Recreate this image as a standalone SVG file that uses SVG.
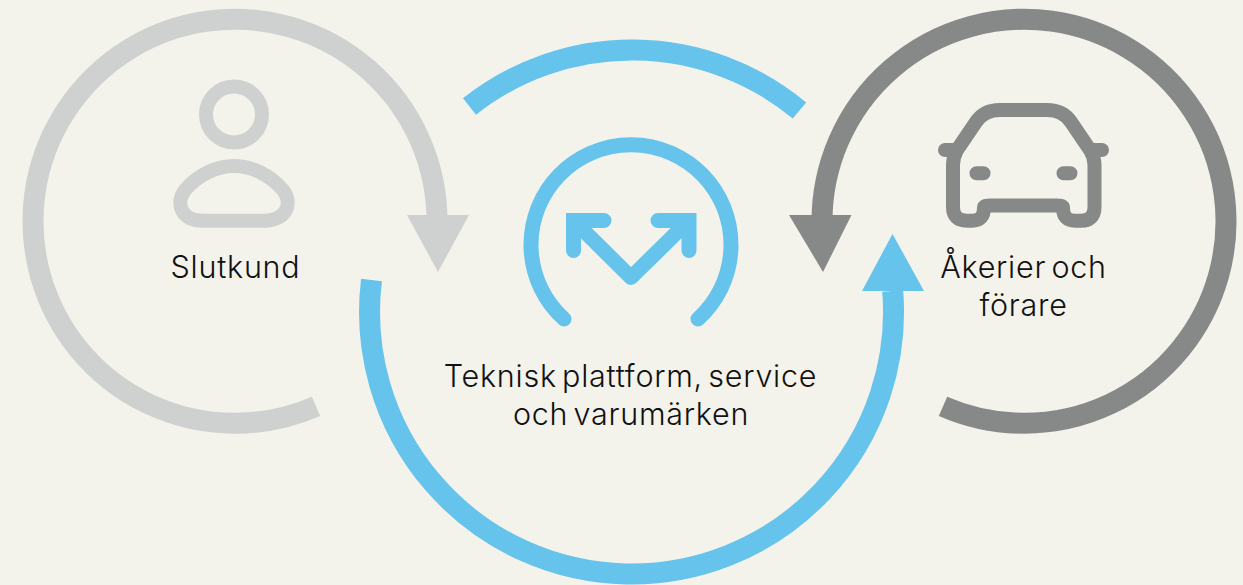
<svg xmlns="http://www.w3.org/2000/svg" width="1243" height="585" viewBox="0 0 1243 585">
<style>
.a{fill:none;stroke-width:21}
.i{fill:none;stroke-width:14;stroke-linecap:round;stroke-linejoin:round}
.lt{stroke:#cfd1d0}.dk{stroke:#878988}.bl{stroke:#66c3ec}
text{font-family:Inter,"Liberation Sans",sans-serif;font-size:30.500px;font-weight:340;letter-spacing:.75px;word-spacing:-4px;fill:#111;text-anchor:middle}
</style>
<rect width="1243" height="585" fill="#f3f3eb"/>
<g id="connectors">
<path class="a lt" d="M316,406.300 A202,202 0 1 1 437,221.300 V216"/>
<polygon points="407,215 469,215 438,272" fill="#cfd1d0"/>
<path class="a dk" d="M943,406.300 A202,202 0 1 0 822,221.300 V216"/>
<polygon points="789,215 851.500,215 823,272" fill="#878988"/>
<path class="a bl" d="M371.500,280 A262,262 0 1 0 892.700,291"/>
<polygon points="862,291 924,291 892.500,234" fill="#66c3ec"/>
<path class="a bl" d="M469.500,106.500 A262,262 0 0 1 799.500,110.500"/>
</g>
<g id="slutkund">
<circle class="i lt" cx="234" cy="114.500" r="28"/>
<path class="i lt" d="M203,220.700 H264 C285,220.700 294,205 283,190 C270,175 252,166 234,166 C216,166 198,175 185,190 C174,205 183,220.700 203,220.700Z"/>
<text x="235.500" y="278">Slutkund</text>
</g>
<g id="plattform">
<path fill="none" stroke="#66c3ec" stroke-width="15" stroke-linecap="round" d="M564,319 A100,100 0 1 1 698,319"/>
<path fill="none" stroke="#66c3ec" stroke-width="15" stroke-linecap="round" d="M604,220.500 H573.500 V250.500 M658,220.500 H689 V250.500"/>
<path fill="none" stroke="#66c3ec" stroke-width="15" stroke-linejoin="round" d="M573.500,220.500 L631,277.500 L689,220.500"/>
<text x="630.500" y="387">Teknisk plattform, service</text>
<text x="631" y="425">och varumärken</text>
</g>
<g id="akerier">
<path class="i dk" d="M953,165 Q953,157 957,150 L976,122 Q984,110 1000,110 H1047 Q1063,110 1071,122 L1090,150 Q1094.500,157 1094.500,165 V207 Q1094.500,220.700 1081,220.700 H1075 Q1063,220.700 1063,208 Q1063,205.500 1057,205.500 H990 Q984,205.500 984,208 Q984,220.700 972,220.700 H967 Q953,220.700 953,207Z"/>
<path class="i dk" d="M945,150 H955 M1102,150 H1092 M976.500,173.300 H983.500 M1063.500,173.300 H1070.500"/>
<text x="1023.500" y="278">Åkerier och</text>
<text x="1023.500" y="316">förare</text>
</g>
</svg>
